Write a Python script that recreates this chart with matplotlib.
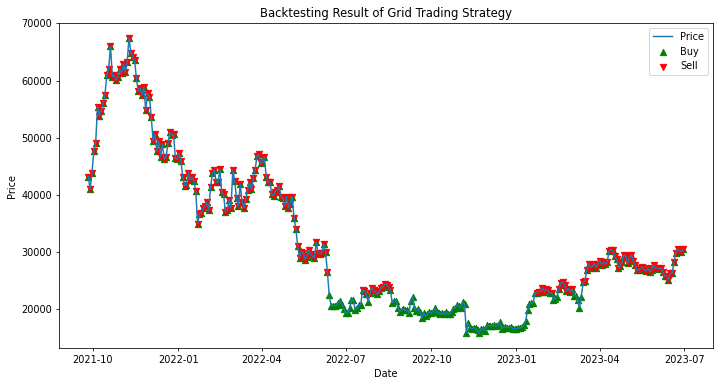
import numpy as np
import pandas as pd
import matplotlib
matplotlib.use('Agg')
import matplotlib.pyplot as plt

# closing price every second day, in thousands of USD
price_2021 = [43.2, 41.0, 43.8,
              47.7, 49.1, 55.4, 53.8, 54.7, 56.0, 57.4, 60.9, 62.0, 66.0, 60.7, 60.9, 60.1, 60.6, 62.0,
              61.3, 62.9, 61.5, 63.3, 67.5, 64.9, 64.2, 63.6, 60.4, 58.1, 58.7, 57.5, 58.9, 54.8, 57.8,
              57.2, 53.6, 49.4, 50.6, 47.6, 49.4, 46.7, 48.9, 46.2, 46.7, 49.0, 51.0, 50.4, 50.7, 46.4, 46.3]
price_2022 = [47.3, 45.9, 43.1, 41.6, 41.8, 43.9, 42.6, 43.1, 42.4, 40.7, 35.0, 36.7, 36.9, 37.7, 38.0,
              38.7, 37.3, 41.4, 43.8, 44.4, 42.2, 42.2, 44.5, 40.5, 40.1, 37.0, 37.3, 39.2, 37.7,
              44.4, 42.5, 39.4, 38.0, 41.9, 38.7, 37.8, 39.3, 40.9, 42.2, 41.0, 42.9, 44.3, 46.8, 47.1, 45.5,
              45.8, 46.6, 43.2, 42.3, 42.2, 40.1, 39.9, 40.6, 40.8, 41.5, 39.7, 39.5, 38.1, 39.7, 37.7,
              38.5, 39.7, 36.0, 34.1, 31.0, 29.0, 30.1, 29.9, 28.7, 29.2, 30.3, 29.6, 29.3, 29.0, 31.7,
              29.8, 29.7, 29.9, 31.4, 30.1, 26.6, 22.5, 20.6, 20.6, 20.6, 20.7, 21.1, 21.5, 20.7, 20.1,
              19.3, 19.3, 20.2, 21.6, 21.6, 19.9, 20.2, 20.8, 20.8, 23.4, 23.2, 22.6, 21.3, 22.9, 23.8, 23.3,
              23.0, 22.6, 23.2, 23.8, 23.9, 24.4, 24.3, 23.9, 23.3, 21.1, 21.5, 21.5, 20.3, 19.6, 19.8,
              20.1, 19.8, 19.8, 19.3, 21.4, 22.2, 20.2, 19.7, 20.1, 19.5, 18.5, 19.3, 18.8, 19.1, 19.6,
              19.3, 19.6, 20.2, 19.5, 19.4, 19.1, 19.4, 19.1, 19.5, 19.1, 19.2, 19.6, 20.1, 20.3, 20.8, 20.5,
              20.2, 21.2, 20.9, 15.9, 17.6, 16.8, 16.6, 16.7, 16.7, 16.3, 15.8, 16.6, 16.5, 16.2, 17.2,
              17.1, 17.1, 17.1, 17.2, 17.1, 17.2, 17.8, 16.6, 16.8, 16.9, 16.8, 16.8, 16.9, 16.6, 16.6]
price_2023 = [16.6, 16.7, 16.8, 16.9, 17.2, 17.9, 19.9, 20.9, 21.1, 21.1, 22.8, 22.9, 23.1, 23.1, 23.7, 23.1,
              23.5, 23.3, 22.8, 22.9, 21.6, 21.8, 22.2, 23.6, 24.6, 24.8, 24.2, 23.2, 23.6, 23.1,
              23.5, 22.4, 22.4, 21.7, 20.2, 22.2, 24.7, 25.0, 26.9, 28.0, 27.3, 27.5, 28.0, 27.3, 28.0,
              28.5, 27.8, 28.2, 27.9, 28.3, 30.2, 30.4, 30.3, 29.4, 28.8, 27.3, 27.6, 28.3, 29.5, 29.3,
              28.1, 29.0, 29.5, 28.4, 27.7, 26.9, 26.8, 27.2, 27.4, 26.9, 26.7, 27.2, 26.5, 26.9, 27.7, 27.2,
              27.2, 27.1, 27.2, 26.5, 25.8, 25.9, 25.1, 26.3, 26.3, 28.3, 29.9, 30.5, 30.3, 30.1, 30.5]
start_date = '2021-09-26'
end_date = '2023-06-30'
sell_level = 22.85  # sells only fire above this price (k)

dates = pd.date_range(start_date, end_date, freq='2D')
price = np.array(price_2021 + price_2022 + price_2023) * 1000
sell = price > sell_level * 1000

fig, ax = plt.subplots(figsize=(720 / 70, 385 / 70), dpi=70)
fig.subplots_adjust(left=58.5 / 720, right=713 / 720, top=1 - 23 / 385, bottom=1 - 348 / 385)

ax.plot(dates, price, label='Price')
ax.scatter(dates, price, marker='^', color='green', s=42, label='Buy')
ax.scatter(dates[sell], price[sell], marker='v', color='red', s=42, label='Sell')

ax.set_title('Backtesting Result of Grid Trading Strategy')
ax.set_xlabel('Date')
ax.set_ylabel('Price')
ax.legend()

fig.savefig('out.png')
